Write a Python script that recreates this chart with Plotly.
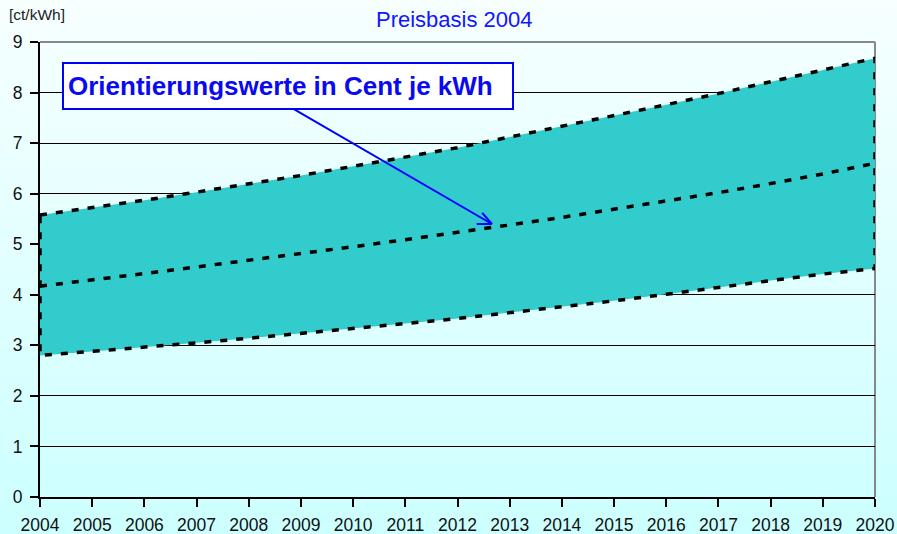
import plotly.graph_objects as go

years = list(range(2004, 2021))
upper = [5.58, 5.72, 5.87, 6.03, 6.19, 6.36, 6.54, 6.72, 6.91, 7.12, 7.33, 7.54, 7.76, 7.98, 8.21, 8.44, 8.68]
middle = [4.17, 4.29, 4.42, 4.55, 4.68, 4.81, 4.95, 5.09, 5.23, 5.38, 5.53, 5.69, 5.85, 6.02, 6.20, 6.39, 6.60]
lower = [2.80, 2.88, 2.96, 3.05, 3.14, 3.23, 3.33, 3.43, 3.53, 3.64, 3.76, 3.88, 4.01, 4.14, 4.28, 4.41, 4.52]
y_ticks = list(range(0, 10))

W, H = 897, 534
ML, MR, MT, MB = 40, 22, 42, 37
PW, PH = W - ML - MR, H - MT - MB

def px_x(p):
    return (p - ML) / PW

def px_y(p):
    return (H - MB - p) / PH

dash = "7px,9px"
fig = go.Figure()

# band
fig.add_trace(go.Scatter(
    x=years + years[::-1] + [years[0]],
    y=upper + lower[::-1] + [upper[0]],
    mode="lines", fill="toself", fillcolor="#33CCCC",
    line=dict(color="black", width=3.5, dash=dash),
    hoverinfo="skip", showlegend=False))
fig.add_trace(go.Scatter(
    x=years, y=middle, mode="lines",
    line=dict(color="black", width=3.5, dash=dash),
    showlegend=False))

grad = ("data:image/svg+xml;utf8,"
        "<svg xmlns='http://www.w3.org/2000/svg' width='10' height='100' preserveAspectRatio='none'>"
        "<defs><linearGradient id='g' x1='0' y1='0' x2='0' y2='1'>"
        "<stop offset='0' stop-color='%23F7FFFF'/><stop offset='1' stop-color='%23CCFFFF'/>"
        "</linearGradient></defs><rect width='10' height='100' fill='url(%23g)'/></svg>")

fig.update_layout(
    width=W, height=H,
    margin=dict(l=ML, r=MR, t=MT, b=MB, autoexpand=False),
    paper_bgcolor="#E6FFFF",
    plot_bgcolor="rgba(0,0,0,0)",
    font=dict(family="Liberation Sans, Arial, sans-serif", color="#111", size=17.5),
    images=[dict(source=grad, xref="paper", yref="paper",
                 x=px_x(0), y=px_y(0), sizex=W / PW, sizey=H / PH,
                 xanchor="left", yanchor="top", sizing="stretch", layer="below")],
    xaxis=dict(range=[2004, 2020], tickvals=years, ticktext=[str(y) for y in years],
               showgrid=False, zeroline=False, showline=True, linecolor="black", linewidth=2,
               ticks="outside", ticklen=8, tickwidth=2, tickcolor="black", automargin=False,
               tickfont=dict(size=17.5, color="#111"), ticklabelstandoff=3),
    yaxis=dict(range=[0, 9], tickvals=y_ticks, showgrid=True, gridcolor="black", gridwidth=1.3,
               zeroline=False, showline=True, linecolor="black", linewidth=2,
               ticks="outside", ticklen=8, tickwidth=2, tickcolor="black", automargin=False,
               tickfont=dict(size=17.5, color="#111"), ticklabelstandoff=4),
    shapes=[
        dict(type="line", xref="paper", yref="paper", x0=0, x1=1, y0=1, y1=1,
             line=dict(color="#888888", width=2), layer="between"),
        dict(type="line", xref="paper", yref="paper", x0=1, x1=1, y0=0, y1=1,
             line=dict(color="#888888", width=2), layer="between"),
    ],
)

ann = []
ann.append(dict(text="[ct/kWh]", xref="paper", yref="paper", x=px_x(7), y=px_y(15),
                xanchor="left", yanchor="middle", showarrow=False,
                font=dict(size=15.5, color="#222")))
ann.append(dict(text="Preisbasis 2004", xref="paper", yref="paper", x=px_x(454), y=px_y(20),
                xanchor="center", yanchor="middle", showarrow=False,
                font=dict(size=22, color="#1414FF")))
# arrow shaft and barbs (head at 2012.66, 5.40)
head_x, head_y = 2012.66, 5.40
for axo, ayo in [(-200, -116), (-11, -12.6), (-16.7, 0)]:
    ann.append(dict(text="", x=head_x, y=head_y, xref="x", yref="y",
                    ax=axo, ay=ayo, showarrow=True, arrowhead=0,
                    arrowwidth=2, arrowcolor="#0000FF"))
ann.append(dict(text="<b>Orientierungswerte in Cent je kWh</b>", xref="paper", yref="paper",
                x=px_x(62), y=px_y(62), xanchor="left", yanchor="top", showarrow=False,
                align="left", width=440, height=36, borderpad=4, bgcolor="white",
                bordercolor="#0000FF", borderwidth=2,
                font=dict(size=26, color="#0A0AF0")))
fig.update_layout(annotations=ann)

fig.write_html("out.html", config={"displayModeBar": False},
               post_script="document.body.style.margin='0';document.body.style.overflow='hidden';"
                           "document.body.style.background='#CCFFFF';")
